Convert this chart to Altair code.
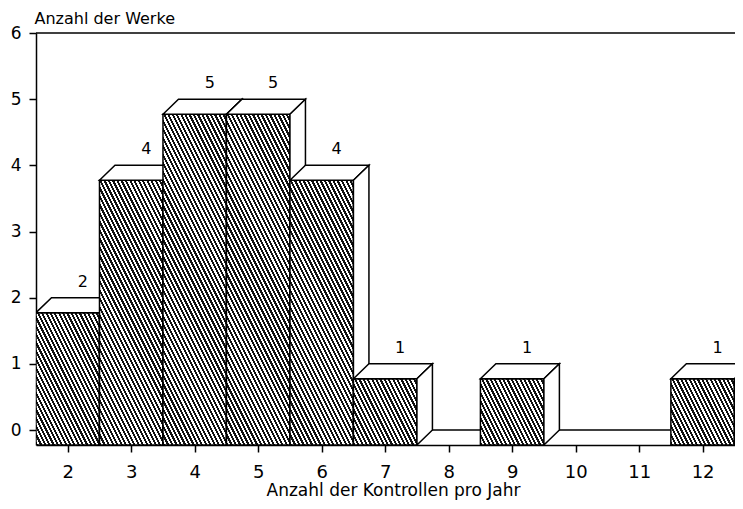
import math
import altair as alt
import pandas as pd

# ---- data ----
kontrollen = [2, 3, 4, 5, 6, 7, 8, 9, 10, 11, 12]   # Anzahl der Kontrollen pro Jahr
werke = [2, 4, 5, 5, 4, 1, 0, 1, 0, 0, 1]            # Anzahl der Werke
y_ticks = [0, 1, 2, 3, 4, 5, 6]
x_ticks = [2, 3, 4, 5, 6, 7, 8, 9, 10, 11, 12]
y_title = "Anzahl der Werke"
x_title = "Anzahl der Kontrollen pro Jahr"

# ---- geometry / style ----
FONT = "DejaVu Sans"
PLOT_W, PLOT_H = 699, 412
X_DOMAIN = [1.5, 12.51]
Y_DOMAIN = [-0.2267, 6]
PX_X = PLOT_W / (X_DOMAIN[1] - X_DOMAIN[0])
PX_Y = PLOT_H / (Y_DOMAIN[1] - Y_DOMAIN[0])
DEPTH_X = 15.5 / PX_X          # oblique depth, in x data units
DEPTH_Y = -Y_DOMAIN[0]         # oblique depth, in y data units
SW = 1.5

xs = alt.Scale(domain=X_DOMAIN, nice=False, zero=False)
ys = alt.Scale(domain=Y_DOMAIN, nice=False, zero=False)

x_axis = alt.Axis(values=x_ticks, title=x_title, grid=False, tickSize=7, tickWidth=SW,
                  domainWidth=SW, domainColor="black", tickColor="black",
                  labelFont=FONT, labelFontSize=18, labelColor="black", labelPadding=11,
                  labelFlush=False, labelOverlap=False,
                  titleFont=FONT, titleFontSize=17, titleFontWeight="normal", titleColor="black",
                  titleX=357, titleY=50, titleAlign="center", titleBaseline="alphabetic")
y_axis = alt.Axis(values=y_ticks, title=y_title, grid=False, tickSize=7, tickWidth=SW,
                  domainWidth=SW, domainColor="black", tickColor="black",
                  labelFont=FONT, labelFontSize=17, labelColor="black", labelPadding=8,
                  labelFlush=False, labelOverlap=False,
                  titleFont=FONT, titleFontSize=16, titleFontWeight="normal", titleColor="black",
                  titleAngle=0, titleX=-2, titleY=-10, titleAlign="left",
                  titleBaseline="alphabetic")


def X(field):
    return alt.X(field, type="quantitative", scale=xs, axis=x_axis)


def Y(field):
    return alt.Y(field, type="quantitative", scale=ys, axis=y_axis)


def hatch(h_px, w_px=PX_X, period=3.8, ink=0.5):
    """Diagonal '\\' hatching as a hard-stop linear gradient (bbox units)."""
    span = 2 * w_px + h_px
    kk = span / (4 * w_px ** 2 + h_px ** 2)
    n = max(1, round(span / (math.sqrt(5) * period)))
    stops = []
    for i in range(n):
        a, b, c = i / n, (i + ink) / n, (i + 1) / n
        stops += [alt.GradientStop(offset=round(a, 5), color="#111111"),
                  alt.GradientStop(offset=round(b, 5), color="#111111"),
                  alt.GradientStop(offset=round(b, 5), color="#ffffff"),
                  alt.GradientStop(offset=round(min(c, 1), 5), color="#ffffff")]
    return alt.LinearGradient(gradient="linear", stops=stops,
                              x1=0, y1=1, x2=2 * w_px * kk, y2=1 - h_px * kk)


dummy = pd.DataFrame({"x": [X_DOMAIN[0]], "y": [0]})

# back edge of the floor and the top frame line
floor = alt.Chart(dummy).mark_rule(color="black", strokeWidth=SW).encode(
    y=alt.YDatum(0, scale=ys, axis=y_axis))
top = alt.Chart(dummy).mark_rule(color="black", strokeWidth=SW).encode(
    y=alt.YDatum(6, scale=ys, axis=y_axis))

layers = [floor, top]

for k, v in zip(kontrollen, werke):
    if v == 0:
        continue
    x0, x1 = k - 0.5, k + 0.5
    front = pd.DataFrame({"x": [x0], "x2": [x1], "y": [-DEPTH_Y], "y2": [v - DEPTH_Y]})
    topface = pd.DataFrame({
        "x": [x0, x0 + DEPTH_X, x1, x1 + DEPTH_X],
        "lo": [v - DEPTH_Y, v - DEPTH_Y, v - DEPTH_Y, v],
        "hi": [v - DEPTH_Y, v, v, v]})
    side = pd.DataFrame({
        "x": [x1, x1 + DEPTH_X],
        "lo": [-DEPTH_Y, 0],
        "hi": [v - DEPTH_Y, v]})
    layers.append(alt.Chart(front).mark_rect(
        fill=hatch(v * PX_Y), stroke="black", strokeWidth=SW, clip=True).encode(
        x=X("x"), x2="x2", y=Y("y"), y2="y2"))
    layers.append(alt.Chart(topface).mark_area(
        fill="white", stroke="black", strokeWidth=SW, clip=True, orient="vertical").encode(
        x=X("x"), y=Y("hi"), y2="lo"))
    layers.append(alt.Chart(side).mark_area(
        fill="white", stroke="black", strokeWidth=SW, clip=True, orient="vertical").encode(
        x=X("x"), y=Y("hi"), y2="lo"))

lab = pd.DataFrame({"k": kontrollen, "n": werke})
labels = alt.Chart(lab).transform_filter("datum.n > 0").mark_text(
    font=FONT, fontSize=16, color="black", dx=15, dy=-11, baseline="alphabetic",
    align="center").encode(x=X("k"), y=Y("n"), text="n:Q")
layers.append(labels)

chart = alt.layer(*layers).properties(
    width=PLOT_W, height=PLOT_H,
    autosize=alt.AutoSizeParams(type="none"),
    padding={"left": 28, "top": 25, "right": 0, "bottom": 56},
    background="white",
).configure_view(stroke=None)

chart.save("out.html", embed_options={"renderer": "svg", "actions": False})
